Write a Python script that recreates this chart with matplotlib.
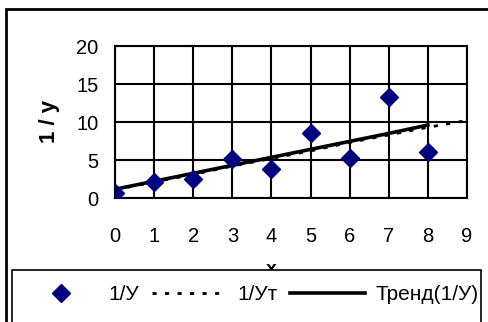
import matplotlib.pyplot as plt
from matplotlib.patches import Rectangle
from matplotlib.lines import Line2D

plt.rcParams['font.family'] = ['Liberation Sans', 'DejaVu Sans']

# data
x_pts = [0, 1, 2, 3, 4, 5, 6, 7, 8]
inv_y = [0.7, 2.1, 2.45, 5.1, 3.8, 8.6, 5.2, 13.25, 6.1]
x_t = [0, 1, 2, 3, 4, 5, 6, 7, 8, 9]
inv_yt = [1.1, 2.1, 3.1, 4.2, 5.2, 6.2, 7.3, 8.3, 9.3, 10.2]
x_trend = [0, 1, 2, 3, 4, 5, 6, 7, 8]
trend = [1.15, 2.2, 3.25, 4.3, 5.35, 6.4, 7.45, 8.5, 9.6]
xticks = list(range(10))
yticks = [0, 5, 10, 15, 20]

W, H = 488, 322
fig = plt.figure(figsize=(W / 100, H / 100), dpi=100)
ax = fig.add_axes([115 / W, 1 - 198 / H, (467 - 115) / W, (198 - 46) / H])

dots = (0, (1.5, 3))
ax.plot(x_t, inv_yt, color='black', lw=2, ls=dots, zorder=3)
ax.plot(x_trend, trend, color='black', lw=2.6, zorder=4)
ax.plot(x_pts, inv_y, ls='none', marker='D', ms=9, color='#000080', zorder=5)

ax.set_xlim(0, 9)
ax.set_ylim(0, 20)
ax.set_xticks(xticks)
ax.set_yticks(yticks)
ax.grid(True, color='black', lw=1.5)
ax.set_axisbelow(True)
ax.tick_params(length=0, labelsize=14.5)
ax.tick_params(axis='x', pad=21)
ax.tick_params(axis='y', pad=12)
for s in ax.spines.values():
    s.set_linewidth(1.5)

fig.text(50 / W, 1 - 121 / H, '1 / у', rotation=90, fontsize=16,
         fontweight='bold', ha='center', va='center')
fig.text(271 / W, 1 - 261 / H, 'x', fontsize=14, fontweight='bold',
         ha='center', va='top')

# outer chart frame
fig.patches.append(Rectangle((6 / W, -0.1), 1.2, 1 - 9 / H + 0.1,
                             transform=fig.transFigure, fill=False,
                             ec='black', lw=2))
# legend frame
fig.patches.append(Rectangle((12 / W, -0.1), (481 - 12) / W, 1 - 270 / H + 0.1,
                             transform=fig.transFigure, fc='white',
                             ec='black', lw=1.2, zorder=10))

handles = [
    Line2D([], [], ls='none', marker='D', ms=9, color='#000080'),
    Line2D([], [], color='black', lw=2, ls=dots),
    Line2D([], [], color='black', lw=2.6),
]
labels = ['1/У', '1/Ут', 'Тренд(1/У)']
leg = fig.legend(handles, labels, ncol=3, frameon=False, fontsize=15,
                 loc='center', bbox_to_anchor=(251 / W, 1 - 295 / H),
                 handlelength=3.6, handletextpad=0.5, columnspacing=0.6,
                 borderpad=0)
leg.set_zorder(11)

fig.savefig('out.png', dpi=100)
